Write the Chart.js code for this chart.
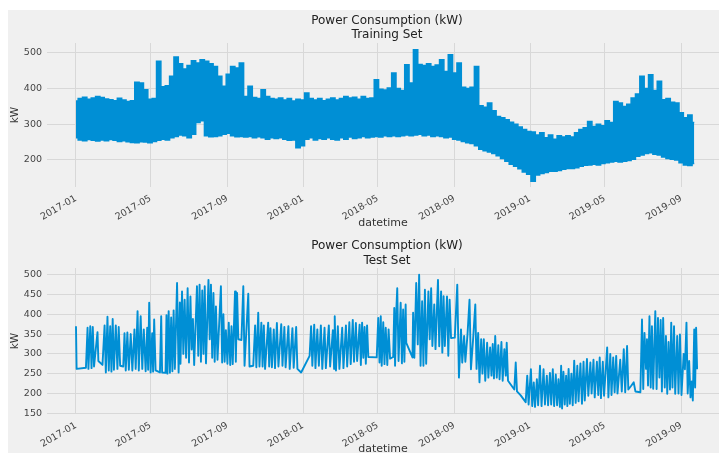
<!DOCTYPE html>
<html>
<head>
<meta charset="utf-8">
<title>Power Consumption (kW)</title>
<script src="https://cdn.jsdelivr.net/npm/chart.js@4.4.1/dist/chart.umd.min.js"></script>
<style>
  html, body { margin: 0; padding: 0; background: #fff; overflow: hidden; }
  body { width: 719px; height: 454px; position: relative; }
  #panel { position: absolute; left: 8px; top: 10px; width: 711px; height: 443px; background: #f0f0f0; }
  .plot { position: absolute; left: 0; width: 719px; }
  #train-wrap { top: 0; height: 232px; }
  #test-wrap { top: 232px; height: 224px; }
</style>
</head>
<body>
<div id="panel"></div>
<div class="plot" id="train-wrap"><canvas id="chart-train"></canvas></div>
<div class="plot" id="test-wrap"><canvas id="chart-test"></canvas></div>

<script>
/* ===== data (x = days since 2017-01-01) ===== */
const tickDays = [0, 120, 243, 365, 485, 608, 730, 850, 973];
const tickLabels = ["2017-01", "2017-05", "2017-09", "2018-01", "2018-05", "2018-09", "2019-01", "2019-05", "2019-09"];

const trainTicks = [200, 300, 400, 500];
const testTicks = [150, 200, 250, 300, 350, 400, 450, 500];

// training set: weekly daytime peak and night trough (hourly data is a solid band)
const weekStep = 7;
const trainHigh = [
  365, 372, 376, 370, 374, 378, 375, 371, 369, 366,
  373, 368, 364, 366, 418, 416, 397, 370, 372, 477,
  405, 408, 435, 489, 470, 455, 465, 478, 472, 481,
  477, 470, 462, 435, 407, 440, 462, 458, 472, 378,
  407, 375, 372, 397, 378, 372, 370, 374, 368, 372,
  365, 370, 368, 388, 372, 368, 372, 366, 370, 374,
  368, 372, 378, 374, 376, 370, 378, 372, 374, 425,
  398, 396, 402, 444, 400, 395, 467, 416, 509, 468,
  465, 470, 462, 466, 481, 448, 495, 444, 472, 404,
  400, 404, 462, 352, 348, 360, 338, 322, 318, 313,
  306, 300, 292, 285, 280, 278, 270, 276, 262, 270,
  258, 268, 264, 268, 264, 276, 285, 290, 308, 294,
  300, 296, 310, 305, 364, 360, 350, 356, 374, 385,
  435, 400, 439, 395, 421, 369, 372, 362, 360, 332,
  318, 326, 305
];
const trainLow = [
  262, 256, 254, 257, 255, 253, 256, 254, 257, 255,
  252, 254, 251, 249, 248, 251, 250, 248, 252, 255,
  258, 256, 262, 266, 270, 268, 262, 272, 305, 310,
  268, 265, 266, 268, 272, 275, 268, 265, 266, 264,
  266, 262, 265, 262, 258, 262, 260, 262, 258, 255,
  256, 234, 240, 258, 262, 256, 260, 258, 262, 258,
  256, 262, 258, 264, 260, 262, 266, 262, 264, 266,
  264, 268, 266, 268, 266, 268, 270, 268, 270, 272,
  268, 270, 266, 268, 266, 262, 264, 258, 256, 252,
  248, 246, 240, 230, 226, 222, 218, 212, 204, 196,
  188, 182, 175, 166, 160, 140, 158, 162, 165, 168,
  168, 170, 174, 176, 176, 178, 182, 185, 186, 188,
  186, 190, 192, 194, 196, 194, 196, 198, 202, 210,
  214, 218, 220, 216, 214, 208, 204, 202, 200, 192,
  186, 184, 190
];

// test set: [day, kW]
const testSeries = [
  [0,370],[1,262],[16,265],[18.6,366],[20,262],[23,370],[25,264],[27,368],[29,268],
  [34.6,355],[36,282],[42.6,272],
  [46,372],[48,253],[50.6,394],[52.7,258],[55,370],[57,255],[59,388],
  [61,260],[64,372],[66.6,262],[68.7,368],[71,270],[76,268],
  [78,352],[80,258],[82.6,354],[85,260],[88,350],[90.6,258],
  [94,362],[96,262],[99,408],[101,258],[104,395],[106.6,262],[109,362],[112,256],[114.5,366],[116,260],[117.7,429],[120,253],
  [122.5,352],[124,255],[125.7,387],[128,258],[135,253],[137,395],[138.5,253],[144,252],
  [145.5,398],[147,250],[149,408],[151,252],[153,392],[155,256],[157,410],[159,262],
  [162.5,479],[165,253],[167,430],[168,275],[170.5,458],[172.6,300],[174.7,437],[177,290],
  [179.5,466],[181.7,278],[184,445],[186,311],[188,388],[190,272],
  [194.5,471],[196.6,295],[198.7,475],[200.9,280],[203,460],[205,300],[207,471],[209,276],
  [213,487],[215,337],[217,475],[219,290],[221,454],[223,280],
  [225,420],[227.5,285],[233,471],[235,278],[237,400],[239,280],[241,360],[243.5,275],[245.6,379],[248,272],[250,370],[252,274],
  [255.7,458],[257,280],[259,454],[261,337],[266,335],[269,471],[271,270],[277,452],[279,268],
  [285,270],[288,372],[290,266],[293,404],[295,268],[298,379],[300,268],[302,372],[304,262],
  [309,379],[310.6,268],[312.7,365],[315,266],[318,362],[320,264],[323,378],[325.5,268],
  [330,375],[332,270],[335,368],[337,266],[341.5,370],[343.6,262],[348,365],[350,265],[354,368],[356,262],
  [362,253],[375.6,295],
  [378,370],[380,270],[383,374],[385,264],[388,362],[390.5,270],[393.7,372],[396,262],[399.6,366],[401.7,264],[406.5,372],[408.6,268],
  [413,360],[415,262],[416,395],[418,258],[421,370],[423.5,262],[428,366],[430,264],[434,372],[436,268],
  [439.5,380],[441.7,274],[445,386],[447,280],[450,378],[452,282],
  [456,374],[458,272],[460,379],[462,290],[464,368],[466,275],[468,372],[470,292],[483.5,291],
  [486,391],[488,278],[490,395],[491.5,270],[494,380],[496,274],[498,366],[500.5,272],[502.6,362],[505,288],[510,292],
  [511.7,416],[513,270],[515,410],[516.5,466],[518.6,282],[522,429],[524,276],[526,412],[528,280],[530,425],[531,328],
  [541,291],[542,404],[544,290],[547,479],[549.5,324],[551.7,500],[554,270],[556.5,433],[558.6,270],[561,462],[563,275],
  [566.6,458],[568.7,337],[571,466],[573,320],[576,425],[578,312],[582,487],[584,319],[587,458],[589,303],[591,446],[593,320],
  [596.5,445],[598.6,295],[600.7,437],[603,340],[609,341],
  [613,475],[615.7,240],[619,362],[621,278],[624,345],[626,280],[629.5,350],[632.7,437],[635,261],[638.6,340],[642,425],[644,262],
  [646.6,353],[648.7,228],[651.4,337],[653.5,250],[655.7,337],[658,232],
  [661,328],[663,240],[665.8,316],[668,245],[670,325],[672,238],[674,345],[676.5,240],[679,322],[681,236],[684,330],[686,232],
  [688.7,312],[691,245],[692.5,328],[694.6,232],
  [704.7,210],[707,278],[709,205],[715,195],[723,178],
  [725.5,245],[727.7,172],[731.4,261],[733.5,168],[736,228],[738,166],[741,236],[743,170],[746,270],[748.5,168],
  [751.7,261],[754,172],[757,245],[759,170],[762,252],[764,172],[766.6,261],[768.7,168],[771.4,248],[773.5,170],[775.7,236],[778,166],
  [780,270],[781.5,162],[783.7,255],[785.8,172],[788,245],[790,168],[792,262],[794,174],[796.5,250],[798.6,170],
  [801,283],[803.4,176],[806,270],[808,180],[811,276],[813.5,174],[816,280],[818,182],
  [821.5,287],[823.7,194],[827,278],[829,200],[832,285],[834,190],[837.5,280],[839.7,196],[842,291],[844,188],[847,280],[849,194],
  [854,316],[856,190],[859,300],[861,196],
  [863.7,291],[866,203],[868.5,295],[870.6,200],[875,285],[877.5,205],[880.7,312],[883,203],[886,320],[888,210],
  [893,220],[896.7,228],[899.4,205],[907.4,203],
  [910,387],[912,211],[914,353],[916.5,262],[918,337],[919.7,220],[922,395],[924,215],[926,370],[928,212],
  [931.4,408],[933.5,211],[935.7,391],[938,240],[940,386],[942,205],[944,391],[946.6,215],[948.5,345],[950.6,199],
  [952.7,330],[955,210],[957,379],[959,215],[961.5,370],[963.4,199],[966.6,345],[968.7,200],[971,349],[973.5,196],
  [977,300],[979,261],[981.5,379],[983.5,200],[985.8,282],[988,190],[990,230],[991.7,182],[994,362],[995.4,215],
  [997,366],[998.6,261]
];

/* ===== shared styles ===== */
const lineBlue = "#008fd5";
const gridColor = "#d8d8d8";
const fontFamily = "'DejaVu Sans', sans-serif";
const tickFont = { family: fontFamily, size: 9.5 };
const labelFont = { family: fontFamily, size: 11 };

// two-line subplot title centred over the plot area
const subTitle = {
  id: "subTitle",
  afterDraw(chart, args, opts) {
    const { ctx, chartArea } = chart;
    const cx = (chartArea.left + chartArea.right) / 2 + 4;
    ctx.save();
    ctx.fillStyle = "#222";
    ctx.font = "12px " + fontFamily;
    ctx.textAlign = "center";
    ctx.textBaseline = "middle";
    opts.lines.forEach((t, i) => ctx.fillText(t, cx, opts.y[i]));
    ctx.restore();
  },
};

function makeChart(id, datasets, cfg) {
  return new Chart(document.getElementById(id), {
    type: "line",
    data: { datasets },
    options: {
      responsive: true,
      maintainAspectRatio: false,
      animation: false,
      events: [],
      layout: { padding: { top: cfg.padTop, left: 0, right: 0, bottom: 0 } },
      elements: { point: { radius: 0 } },
      plugins: {
        legend: { display: false },
        tooltip: { enabled: false },
        subTitle: { lines: cfg.title, y: cfg.titleY },
      },
      scales: {
        x: {
          type: "linear",
          min: -46.6,
          max: 1033.8,
          afterBuildTicks: (s) => { s.ticks = tickDays.map(v => ({ value: v })); },
          afterFit: (s) => { s.height = cfg.xHeight; },
          border: { display: false },
          grid: { color: gridColor, lineWidth: 1, drawTicks: false },
          ticks: {
            autoSkip: false,
            minRotation: 30,
            maxRotation: 30,
            padding: 6,
            font: tickFont,
            color: "#444",
            callback: (v) => tickLabels[tickDays.indexOf(v)],
          },
          title: { display: true, text: "datetime", font: labelFont, color: "#333", padding: { top: 0, bottom: cfg.xTitlePad } },
        },
        y: {
          min: cfg.yMin,
          max: cfg.yMax,
          afterBuildTicks: (s) => { s.ticks = cfg.yTicks.map(v => ({ value: v })); },
          afterFit: (s) => { s.width = 47; },
          border: { display: false },
          grid: { color: gridColor, lineWidth: 1, drawTicks: false },
          ticks: { padding: 5, font: tickFont, color: "#444" },
          title: { display: true, text: "kW", font: { family: fontFamily, size: 10.5 }, color: "#333", padding: { top: 9, bottom: 0 } },
        },
      },
    },
    plugins: [subTitle],
  });
}

// training band: peak line filled down to the trough line
const trainTop = trainHigh.map((h, i) => ({ x: i * weekStep, y: h }));
const trainBottom = trainLow.map((l, i) => ({ x: i * weekStep, y: l }));
const testPoints = testSeries.map(([d, v]) => ({ x: d, y: v }));

makeChart("chart-train", [
  {
    data: trainTop,
    borderColor: lineBlue,
    backgroundColor: lineBlue,
    borderWidth: 1.5,
    stepped: "middle",
    fill: "+1",
  },
  {
    data: trainBottom,
    borderColor: lineBlue,
    borderWidth: 1.5,
    stepped: "middle",
    fill: false,
  },
], {
  padTop: 43, xHeight: 45, xTitlePad: 2,
  yMin: 124, yMax: 528, yTicks: trainTicks,
  title: ["Power Consumption (kW)", "Training Set"], titleY: [21, 35],
});

makeChart("chart-test", [
  {
    data: testPoints,
    borderColor: lineBlue,
    borderWidth: 1.9,
    borderJoinStyle: "round",
    tension: 0,
    fill: false,
  },
], {
  padTop: 36, xHeight: 42, xTitlePad: 0,
  yMin: 148, yMax: 517, yTicks: testTicks,
  title: ["Power Consumption (kW)", "Test Set"], titleY: [14, 29],
});
</script>
</body>
</html>
